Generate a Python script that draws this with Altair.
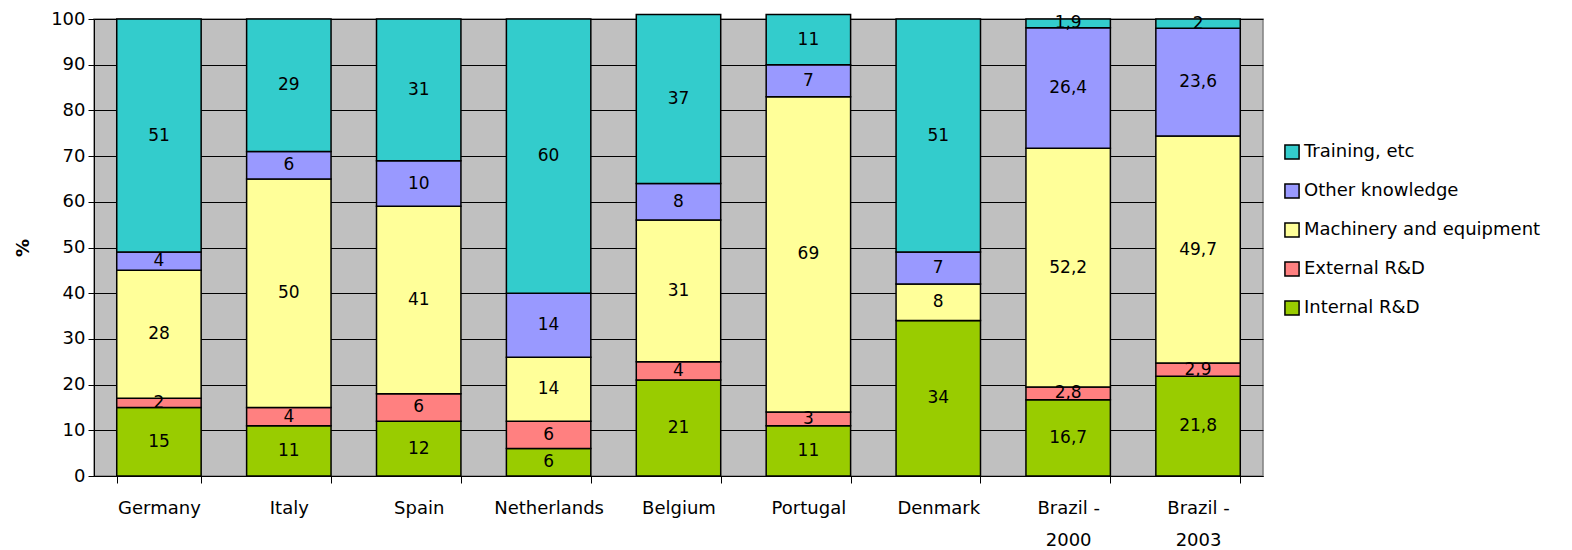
import altair as alt
import pandas as pd

countries = ["Germany", "Italy", "Spain", "Netherlands", "Belgium", "Portugal",
             "Denmark", "Brazil - 2000", "Brazil - 2003"]
series = ["Internal R&D", "External R&D", "Machinery  and equipment",
          "Other knowledge", "Training, etc"]
internal = [15, 11, 12, 6, 21, 11, 34, 16.7, 21.8]
external = [2, 4, 6, 6, 4, 3, 0, 2.8, 2.9]
machinery = [28, 50, 41, 14, 31, 69, 8, 52.2, 49.7]
other = [4, 6, 10, 14, 8, 7, 7, 26.4, 23.6]
training = [51, 29, 31, 60, 37, 11, 51, 1.9, 2]
colors = ["#99CC00", "#FF8080", "#FFFF99", "#9999FF", "#33CCCC"]

rows = []
for si, (s, vals) in enumerate(zip(series, [internal, external, machinery, other, training])):
    for c, v in zip(countries, vals):
        rows.append({"country": c, "series": s, "value": v, "idx": si,
                     "label": str(v).replace(".", ",")})
df = pd.DataFrame(rows)

FONT = "DejaVu Sans"

x_enc = alt.X("country:N", sort=countries, title=None,
              scale=alt.Scale(paddingInner=0.35, paddingOuter=0.175),
              axis=alt.Axis(labelAngle=0, tickBand="extent", tickSize=7, tickColor="#000000",
                            domainColor="#000000", labelFontSize=18, labelFont=FONT,
                            labelColor="#000000", labelPadding=16, labelLineHeight=32,
                            labelExpr="length(split(datum.label, ' - ')) > 1 ? [split(datum.label, ' - ')[0] + ' -', split(datum.label, ' - ')[1]] : datum.label"))

base = alt.Chart(df)

bars = base.mark_bar(stroke="#000000", strokeWidth=1.5).encode(
    x=x_enc,
    y=alt.Y("value:Q", stack="zero", title="%",
            scale=alt.Scale(domain=[0, 100], nice=False),
            axis=alt.Axis(values=list(range(0, 101, 10)), grid=True, gridColor="#000000",
                          gridWidth=1, tickSize=6, tickColor="#000000", domainColor="#000000",
                          labelFontSize=18, labelFont=FONT, labelColor="#000000", labelPadding=3,
                          titleFontSize=18, titleFont=FONT, titleFontWeight="bold",
                          titleColor="#000000", titlePadding=18)),
    color=alt.Color("series:N",
                    scale=alt.Scale(domain=series[::-1], range=colors[::-1]),
                    legend=alt.Legend(title=None, orient="none", legendX=1189, legendY=124,
                                      symbolType="square", symbolSize=200,
                                      symbolStrokeColor="#000000", symbolStrokeWidth=1.5,
                                      labelFontSize=18, labelFont=FONT, labelColor="#000000",
                                      labelLimit=0, rowPadding=17, labelOffset=3)),
    order=alt.Order("idx:Q", sort="ascending"),
)

texts = base.transform_stack(
    stack="value", groupby=["country"], as_=["y0", "y1"],
    sort=[alt.SortField("idx", order="ascending")]
).transform_calculate(
    mid="(datum.y0 + datum.y1) / 2"
).transform_filter("datum.value > 0").mark_text(
    fontSize=17, font=FONT, color="#000000"
).encode(
    x=alt.X("country:N", sort=countries),
    y=alt.Y("mid:Q"),
    text="label:N",
)

chart = alt.layer(bars, texts).properties(
    width=1169, height=457,
    padding={"left": 6, "top": 2, "right": 5, "bottom": 0},
).configure(
    background="#FFFFFF"
).configure_view(
    fill="#C0C0C0", stroke="#808080", strokeWidth=1.5
)

chart.save("out.html", embed_options={"renderer": "svg", "actions": False})
